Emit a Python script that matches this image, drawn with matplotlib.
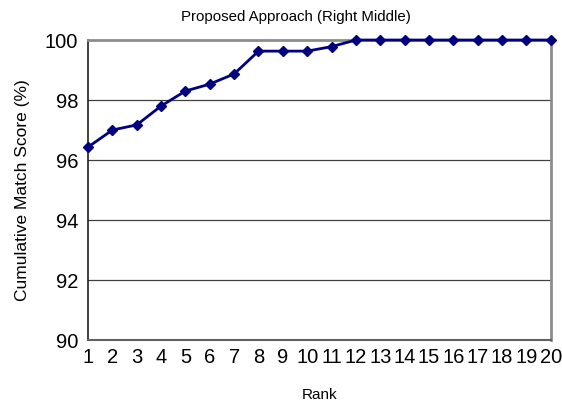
import matplotlib.pyplot as plt

plt.rcParams['font.family'] = ['Liberation Sans', 'DejaVu Sans']

ranks = list(range(1, 21))
scores = [96.43, 97.0, 97.17, 97.8, 98.3, 98.53, 98.87, 99.63, 99.63, 99.63,
          99.78, 100, 100, 100, 100, 100, 100, 100, 100, 100]
yticks = [90, 92, 94, 96, 98, 100]

fig = plt.figure(figsize=(5.62, 4.03), dpi=100)
ax = fig.add_axes([0.1566, 0.1563, 0.8234, 0.7444])

for y in yticks[1:-1]:
    ax.axhline(y, color='#404040', lw=0.9, zorder=1)

ax.plot(ranks, scores, color='#000080', lw=2, marker='D', ms=5.5,
        clip_on=False, zorder=3)

ax.set_xlim(1, 20)
ax.set_ylim(90, 100)
ax.set_xticks(ranks)
ax.set_xticklabels([str(r) for r in ranks], fontsize=14.5)
ax.set_yticks(yticks)
ax.set_yticklabels([str(y) for y in yticks], fontsize=14.5)
ax.tick_params(length=0)
ax.tick_params(axis='x', pad=6)
ax.tick_params(axis='y', pad=7)

for s in ['top', 'right']:
    ax.spines[s].set_color('#8c8c8c')
    ax.spines[s].set_linewidth(2)
ax.spines['left'].set_color('#202020')
ax.spines['left'].set_linewidth(1.2)
ax.spines['bottom'].set_color('#606060')
ax.spines['bottom'].set_linewidth(1.5)

ax.set_title('Proposed Approach (Right Middle)', fontsize=10.8, pad=14, x=0.449)
ax.set_xlabel('Rank', fontsize=11, labelpad=15)
ax.set_ylabel('Cumulative Match Score (%)', fontsize=12.5, labelpad=11)

fig.savefig('out.png', dpi=100)
